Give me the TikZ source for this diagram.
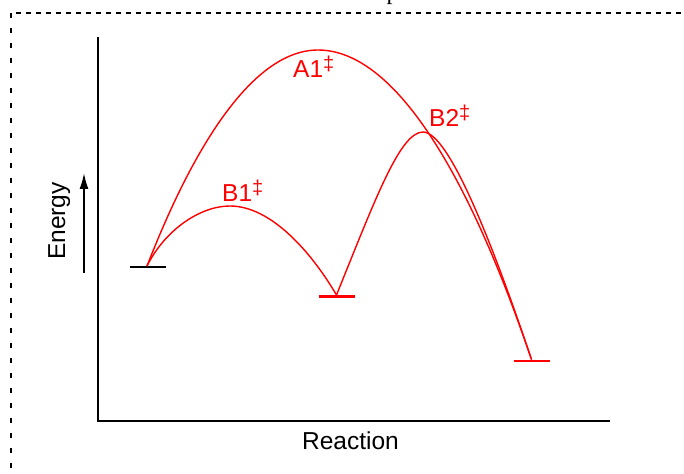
\documentclass[tikz,border=0pt]{standalone}
\usepackage{fontspec}
\setmainfont{Liberation Sans}
\newfontfamily\serifpart{Liberation Serif}
\usetikzlibrary{arrows.meta}
\newcommand\tsdd{\raisebox{0.3em}{\fontsize{20bp}{20bp}\selectfont ‡}}
\begin{document}
\begin{tikzpicture}[x=1bp,y=-1bp,
  lbl/.style={inner sep=0pt, anchor=base west, font=\fontsize{24.5bp}{28bp}\selectfont},
  redlbl/.style={lbl, text=red},
  curve/.style={red, line width=1.4bp},
  level/.style={line width=2.6bp},
  axis/.style={line width=2bp},
  hframe/.style={dash pattern=on 5bp off 5bp, line width=1.1bp},
  vframe/.style={dash pattern=on 5bp off 10bp, line width=1.1bp}]
\useasboundingbox (0,0) rectangle (684,474);
% clipped frame and title fragment
\coordinate (fc) at (11,13);
\coordinate (fr) at (720,13);
\coordinate (fb) at (11,520);
\draw[hframe] (fc) ++(5,0) -- (fr);
\draw[vframe] (fc) -- (fb);
\node[inner sep=0pt, anchor=base west, font=\serifpart\fontsize{24bp}{24bp}\selectfont] (ttl) at (386.5,0) {p};
% axes
\coordinate (ytop) at (98,37);
\coordinate (origin) at (98,421);
\coordinate (xend) at (610,421);
\draw[axis] (ytop) -- (origin) -- (xend);
% energy arrow
\coordinate (ea) at (84,273);
\coordinate (eb) at (84,173);
\draw[line width=1.8bp, -{Latex[length=16bp,width=9bp]}] (ea) -- (eb);
\node[lbl, rotate=90] (energy) at (65,260) {Energy};
\node[lbl, anchor=base] (reaction) at (350.5,449) {Reaction};
% states
\coordinate (R) at (147,266);
\coordinate (I) at (336.5,295);
\coordinate (P) at (531.5,359.5);
\coordinate (TSA) at (318,50);
\coordinate (TSB1) at (230,206);
\coordinate (TSB2) at (423,132);
% levels
\draw[level] (130,267) -- (166,267);
\draw[level, red] (318.5,296.5) -- (354.5,296.5);
\draw[level, red] (514,361) -- (550,361);
% curves
\draw[curve] (R) parabola bend (TSA) (P);
\draw[curve] (R) .. controls (165,230) and (200,206) .. (TSB1)
  .. controls (270,206) and (310,250) .. (I);
\draw[curve] (I) .. controls (375,200) and (400,132) .. (TSB2)
  .. controls (450,132) and (496,254) .. (P);
% labels
\node[redlbl] (a1) at (293,78) {A1\tsdd};
\node[redlbl] (b1) at (222,202) {B1\tsdd};
\node[redlbl] (b2) at (429,127) {B2\tsdd};
\end{tikzpicture}
\end{document}
